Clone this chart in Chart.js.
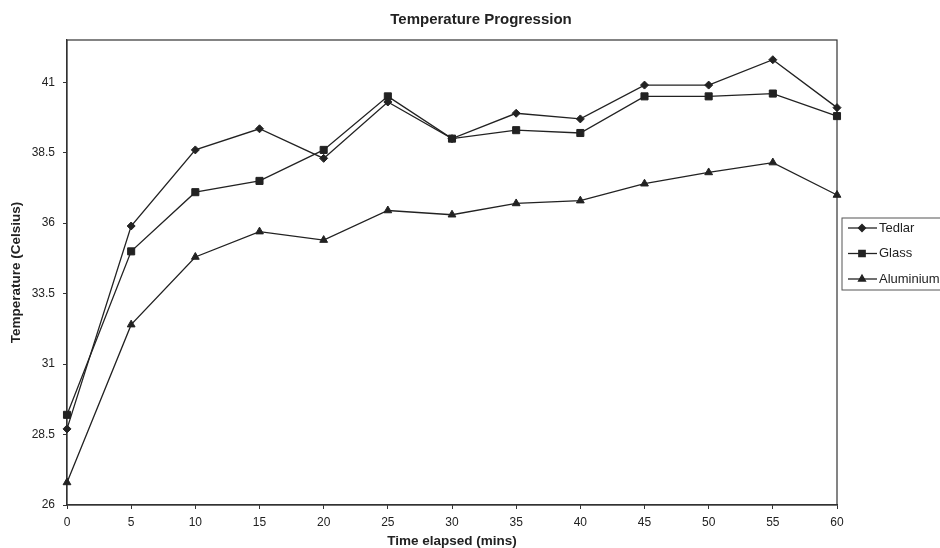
<!DOCTYPE html>
<html>
<head>
<meta charset="utf-8">
<script src="https://cdn.jsdelivr.net/npm/chart.js@4.4.0/dist/chart.umd.min.js"></script>
<style>
  html, body { margin: 0; padding: 0; background: #fff; }
</style>
</head>
<body>
<canvas id="myChart" width="940" height="548"></canvas>
<script>
// data
const times = [0, 5, 10, 15, 20, 25, 30, 35, 40, 45, 50, 55, 60];
const tedlar = [28.7, 35.9, 38.6, 39.35, 38.3, 40.3, 39.0, 39.9, 39.7, 40.9, 40.9, 41.8, 40.1];
const glass = [29.2, 35.0, 37.1, 37.5, 38.6, 40.5, 39.0, 39.3, 39.2, 40.5, 40.5, 40.6, 39.8];
const aluminium = [26.8, 32.4, 34.8, 35.7, 35.4, 36.45, 36.3, 36.7, 36.8, 37.4, 37.8, 38.15, 37.0];
const yTicks = [26, 28.5, 31, 33.5, 36, 38.5, 41];

const FONT = "Arial, 'Liberation Sans', sans-serif";
const INK = '#222';

// plot frame (Excel style box round the plot area)
const frame = {
  id: 'frame',
  beforeDatasetsDraw(chart) {
    const a = chart.chartArea, ctx = chart.ctx;
    ctx.save();
    ctx.strokeStyle = '#333';
    ctx.lineWidth = 1.2;
    ctx.strokeRect(a.left, a.top, a.right - a.left, a.bottom - a.top);
    ctx.restore();
  }
};

// boxed legend with line + marker samples
const boxLegend = {
  id: 'boxLegend',
  afterDraw(chart) {
    const ctx = chart.ctx, a = chart.chartArea;
    const x0 = a.right + 5, y0 = a.top + 178;
    ctx.save();
    ctx.strokeStyle = '#555';
    ctx.lineWidth = 1;
    ctx.strokeRect(x0, y0, 120, 72);
    ctx.font = '13px ' + FONT;
    ctx.textBaseline = 'middle';
    chart.data.datasets.forEach((ds, i) => {
      const y = y0 + 10 + i * 25.5;
      ctx.strokeStyle = INK;
      ctx.lineWidth = 1.3;
      ctx.beginPath();
      ctx.moveTo(x0 + 6, y);
      ctx.lineTo(x0 + 35, y);
      ctx.stroke();
      ctx.fillStyle = INK;
      Chart.helpers.drawPoint(ctx, {
        pointStyle: ds.pointStyle, radius: ds.pointRadius - 0.5, rotation: 0, borderWidth: 1
      }, x0 + 20, y);
      ctx.fillStyle = INK;
      ctx.fillText(ds.label, x0 + 37, y);
    });
    ctx.restore();
  }
};

const mk = (label, data, style, r) => ({
  label: label,
  data: data,
  borderColor: INK,
  backgroundColor: INK,
  borderWidth: 1.3,
  pointStyle: style,
  pointRadius: r,
  pointBorderWidth: 1,
  tension: 0
});

new Chart(document.getElementById('myChart'), {
  type: 'line',
  plugins: [frame, boxLegend],
  data: {
    labels: times,
    datasets: [
      mk('Tedlar', tedlar, 'rectRot', 4),
      mk('Glass', glass, 'rect', 5),
      mk('Aluminium', aluminium, 'triangle', 4.5)
    ]
  },
  options: {
    responsive: false,
    animation: false,
    layout: { padding: { left: 22, right: 0, top: 0, bottom: 0 } },
    plugins: {
      legend: { display: false },
      tooltip: { enabled: false },
      title: {
        display: true,
        text: 'Temperature Progression',
        color: INK,
        font: { family: FONT, size: 15, weight: 'bold' },
        padding: { top: 11, bottom: 11 }
      }
    },
    scales: {
      x: {
        grid: { drawOnChartArea: false, tickLength: 4, color: '#333' },
        border: { color: '#333', width: 1.2 },
        ticks: { color: INK, font: { family: FONT, size: 12 }, padding: 6, maxRotation: 0 },
        title: {
          display: true,
          text: 'Time elapsed (mins)',
          color: INK,
          font: { family: FONT, size: 13.5, weight: 'bold', lineHeight: 1 },
          padding: { top: 0, bottom: 0 }
        },
        afterFit(scale) { scale.height = 43; }
      },
      y: {
        min: 26,
        max: 42.5,
        grid: { drawOnChartArea: false, tickLength: 4, color: '#333' },
        border: { color: '#333', width: 1.2 },
        afterBuildTicks(scale) { scale.ticks = yTicks.map(v => ({ value: v })); },
        ticks: {
          color: INK,
          font: { family: FONT, size: 12 },
          padding: 8,
          callback: v => String(v)
        },
        title: {
          display: true,
          text: 'Temperature (Celsius)',
          color: INK,
          font: { family: FONT, size: 13.5, weight: 'bold', lineHeight: 1 },
          padding: { top: -12, bottom: 0 }
        },
        afterFit(scale) { scale.width = 45; }
      },
      side: {
        position: 'right',
        display: true,
        grid: { display: false },
        border: { display: false },
        ticks: { display: false },
        afterFit(scale) { scale.width = 103; }
      }
    }
  }
});
</script>
</body>
</html>
